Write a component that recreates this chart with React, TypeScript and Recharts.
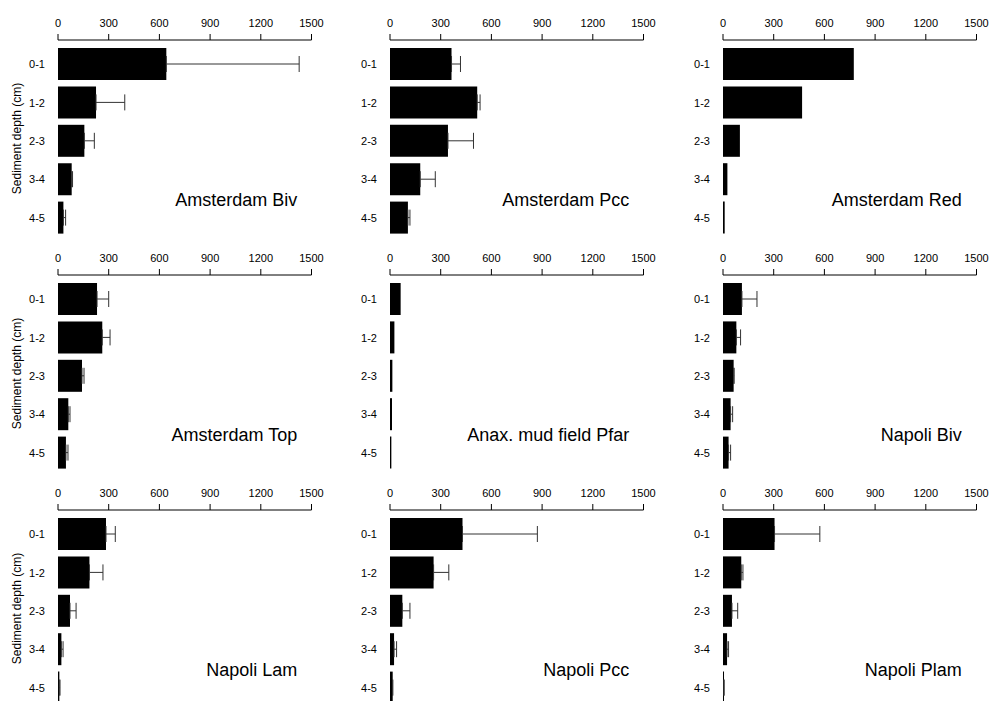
import React from 'react';
import { BarChart, Bar, XAxis, YAxis, ErrorBar } from 'recharts';

const depths = ['0-1', '1-2', '2-3', '3-4', '4-5'];
const xTicks = [0, 300, 600, 900, 1200, 1500];
const yAxisTitle = 'Sediment depth (cm)';

const amsterdamBivMean = [641, 225, 156, 81, 32];
const amsterdamBivErr = [786, 170, 59, 5, 13];
const amsterdamPccMean = [364, 516, 343, 179, 106];
const amsterdamPccErr = [53, 17, 151, 89, 12];
const amsterdamRedMean = [774, 468, 100, 26, 10];
const amsterdamTopMean = [231, 262, 142, 61, 47];
const amsterdamTopErr = [69, 46, 12, 10, 12];
const anaxPfarMean = [63, 26, 14, 12, 8];
const napoliBivMean = [112, 79, 63, 45, 33];
const napoliBivErr = [89, 25, 3, 12, 12];
const napoliLamMean = [284, 186, 71, 20, 8];
const napoliLamErr = [55, 80, 36, 10, 4];
const napoliPccMean = [429, 258, 73, 24, 16];
const napoliPccErr = [443, 90, 45, 15, 0];
const napoliPlamMean = [305, 108, 53, 24, 6];
const napoliPlamErr = [268, 10, 34, 9, 0];

const panels: { name: string; mean: number[]; err: number[] | null }[] = [
  { name: 'Amsterdam Biv', mean: amsterdamBivMean, err: amsterdamBivErr },
  { name: 'Amsterdam Pcc', mean: amsterdamPccMean, err: amsterdamPccErr },
  { name: 'Amsterdam Red', mean: amsterdamRedMean, err: null },
  { name: 'Amsterdam Top', mean: amsterdamTopMean, err: amsterdamTopErr },
  { name: 'Anax. mud field Pfar', mean: anaxPfarMean, err: null },
  { name: 'Napoli Biv', mean: napoliBivMean, err: napoliBivErr },
  { name: 'Napoli Lam', mean: napoliLamMean, err: napoliLamErr },
  { name: 'Napoli Pcc', mean: napoliPccMean, err: napoliPccErr },
  { name: 'Napoli Plam', mean: napoliPlamMean, err: napoliPlamErr },
];

const FONT = '"Liberation Sans", Arial, Helvetica, sans-serif';
const colLeft = [0.3, 332.3, 664.7];
const rowTop = [0, 235, 470];
const CHART_W = 327;
const CHART_H = 237;
const PLOT_LEFT = 58;

function Panel({ idx }: { idx: number }) {
  const p = panels[idx];
  const col = idx % 3;
  const row = Math.floor(idx / 3);
  const data = depths.map((d, i) => ({
    depth: d,
    value: p.mean[i],
    err: p.err ? [0, p.err[i]] : [0, 0],
  }));
  const left = colLeft[col];
  const top = rowTop[row];
  return (
    <>
      <div style={{ position: 'absolute', left, top, width: CHART_W, height: CHART_H }}>
        <BarChart
          width={CHART_W}
          height={CHART_H}
          data={data}
          layout="vertical"
          margin={{ top: 10, right: 15.5, bottom: 0, left: 8 }}
          barCategoryGap={3}
        >
          <XAxis
            type="number"
            orientation="top"
            domain={[0, 1500]}
            ticks={xTicks}
            interval={0}
            height={30}
            stroke="#000"
            tickSize={6}
            tickMargin={7}
            tick={{ fontSize: 11, fill: '#000' }}
            allowDataOverflow
          />
          <YAxis
            type="category"
            dataKey="depth"
            width={50}
            axisLine={false}
            tickLine={false}
            tickSize={6}
            tickMargin={7}
            padding={{ top: 5, bottom: 0 }}
            tick={{ fontSize: 11, fill: '#000' }}
            label={
              col === 0
                ? {
                    value: yAxisTitle,
                    angle: -90,
                    position: 'insideLeft',
                    offset: 9,
                    style: { textAnchor: 'middle', fontSize: 12, fill: '#000' },
                  }
                : undefined
            }
          />
          <Bar dataKey="value" fill="#000" isAnimationActive={false}>
            {p.err ? (
              <ErrorBar dataKey="err" direction="x" width={8} stroke="#333" strokeWidth={1} />
            ) : null}
          </Bar>
        </BarChart>
      </div>
      <div
        style={{
          position: 'absolute',
          left: left + PLOT_LEFT + 239 - 300,
          width: 300,
          top: top + 40 + 160 - 11,
          height: 22,
          lineHeight: '22px',
          fontSize: 18,
          textAlign: 'right',
          color: '#000',
          whiteSpace: 'nowrap',
        }}
      >
        {p.name}
      </div>
    </>
  );
}

export default function App() {
  return (
    <div
      style={{
        position: 'absolute',
        left: 0,
        top: 0,
        width: 989,
        height: 701,
        background: '#fff',
        fontFamily: FONT,
        overflow: 'hidden',
      }}
    >
      {panels.map((_, i) => (
        <Panel key={i} idx={i} />
      ))}
    </div>
  );
}
